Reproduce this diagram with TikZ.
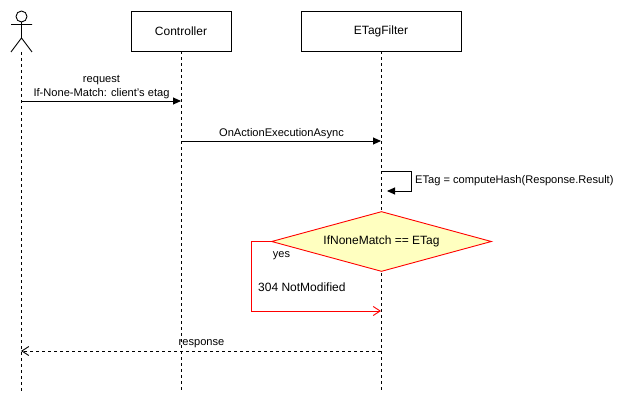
\documentclass[tikz,border=0pt]{standalone}
\usepackage{fontspec}
\setmainfont{Liberation Sans}
\usetikzlibrary{arrows.meta,shapes.geometric}
\definecolor{dyellow}{HTML}{FFFFC0}
\definecolor{dred}{HTML}{FF0000}
\begin{document}
\begin{tikzpicture}[x=1pt,y=-1pt,
  txt/.style={font=\fontsize{11.1}{13.5}\selectfont,inner sep=0pt,align=center},
  big/.style={font=\fontsize{12}{14}\selectfont},
  lifebox/.style={draw=black,fill=white,line width=.9pt,minimum width=100pt,minimum height=40pt,inner sep=0pt,big},
  life/.style={draw=black,line width=.9pt,dash pattern=on 3pt off 3pt},
  msg/.style={draw=black,line width=.9pt,-{Triangle[length=8pt,width=7pt]}},
  ret/.style={draw=black,line width=.9pt,dash pattern=on 3pt off 3pt,-{Straight Barb[length=7pt,width=9pt]}}]
\useasboundingbox (0,0) rectangle (627,404);
\node[lifebox] (ctl) at (181,31) {Controller};
\node[lifebox,minimum width=160pt] (etf) at (381,31) {ETagFilter};
\coordinate (ae) at (21,391);
\coordinate (ce) at (181,391);
\coordinate (ee) at (381,391);
% actor
\draw[line width=.9pt] (21.5,16.5) circle (5.5);
\draw[line width=.9pt] (21.5,22) -- (21.5,38) (11,24.5) -- (32,24.5) (21.5,38) -- (11,52) (21.5,38) -- (32,52);
\coordinate (as) at (21,52);
\draw[life] (as) -- (ae);
\draw[life] (ctl.south) -- (ce);
\draw[life] (etf.south) -- (ee);
\coordinate (a1) at (21,101);\coordinate (c1) at (181,101);
\coordinate (c2) at (181,141);\coordinate (e2) at (381,141);
\draw[msg] (a1) -- (c1);
\node[txt] (l1) at (101.5,87) {request\\If-None-Match: client's etag};
\draw[msg] (c2) -- (e2);
\node[txt] (l2) at (281.5,133.5) {OnActionExecutionAsync};
\coordinate (s1) at (381,171);\coordinate (s2) at (411,171);\coordinate (s3) at (411,191);\coordinate (s4) at (387,191);
\draw[msg] (s1) -- (s2) -- (s3) -- (s4);
\node[txt,anchor=west] (l3) at (415,180.5) {ETag = computeHash(Response.Result)};
\node[draw=dred,fill=dyellow,diamond,aspect=3.67,minimum width=220pt,minimum height=60pt,inner sep=0pt,big,line width=.9pt] (d) at (381.5,241.5) {IfNoneMatch == ETag};
\coordinate (y1) at (251,241.5);\coordinate (y2) at (251,311);\coordinate (y3) at (381,311);
\draw[draw=dred,line width=.9pt,-{Straight Barb[length=7pt,width=9pt]}] (d.west) -- (y1) -- (y2) -- (y3);
\node[txt,font=\fontsize{11}{13}\selectfont] (yes) at (281.5,256) {yes};
\node[txt,anchor=west,big] (nm) at (258,287.5) {304 NotModified};
\coordinate (r1) at (381,351);\coordinate (r2) at (21,351);
\draw[ret] (r1) -- (r2);
\node[txt] (l4) at (201.5,344) {response};
\end{tikzpicture}
\end{document}
